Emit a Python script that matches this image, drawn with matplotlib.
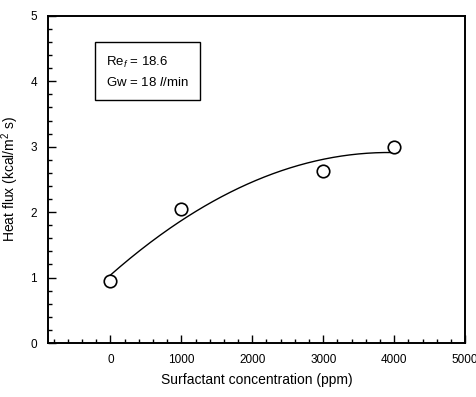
import numpy as np
import matplotlib
matplotlib.use('Agg')
import matplotlib.pyplot as plt
from matplotlib.ticker import MultipleLocator

plt.rcParams['font.family'] = ['Liberation Sans', 'DejaVu Sans']
plt.rcParams['mathtext.fontset'] = 'custom'
plt.rcParams['mathtext.rm'] = 'Liberation Sans'
plt.rcParams['mathtext.it'] = 'Liberation Sans:italic'

# measured points
conc = [0, 1000, 3000, 4000]          # ppm
flux = [0.95, 2.05, 2.63, 3.00]       # kcal/m2 s

# quadratic trend through the measurements
coef = np.polyfit(conc, flux, 2)
xfit = np.linspace(0, 4000, 200)
yfit = np.polyval(coef, xfit)

fig = plt.figure(figsize=(4.76, 3.97), dpi=100)
ax = fig.add_axes([0.101, 0.136, 0.876, 0.824])

ax.plot(xfit, yfit, color='black', lw=1.0)
ax.plot(conc, flux, 'o', ms=9, mfc='white', mec='black', mew=1.2)

ax.set_xlim(-880, 5000)
ax.set_ylim(0, 5)
ax.xaxis.set_major_locator(MultipleLocator(1000))
ax.xaxis.set_minor_locator(MultipleLocator(200))
ax.yaxis.set_major_locator(MultipleLocator(1))
ax.yaxis.set_minor_locator(MultipleLocator(0.2))
ax.tick_params(which='both', direction='in', top=False, right=False,
               labelsize=8.5, width=1.0)
ax.tick_params(which='major', length=6, pad=8)
ax.tick_params(which='minor', length=3)
for s in ax.spines.values():
    s.set_linewidth(1.4)

ax.set_xlabel('Surfactant concentration (ppm)', fontsize=10, labelpad=5)
ax.set_ylabel('Heat flux (kcal/m$^2$ s)', fontsize=10, labelpad=7)

ax.text(-60, 4.15, 'Re$_{f}$ = 18.6\nGw = 18 $l$/min', fontsize=9.5,
        linespacing=1.6, va='center', ha='left',
        bbox=dict(boxstyle='square,pad=0.85', fc='white', ec='black', lw=1.0))

fig.savefig('out.png', dpi=100)
